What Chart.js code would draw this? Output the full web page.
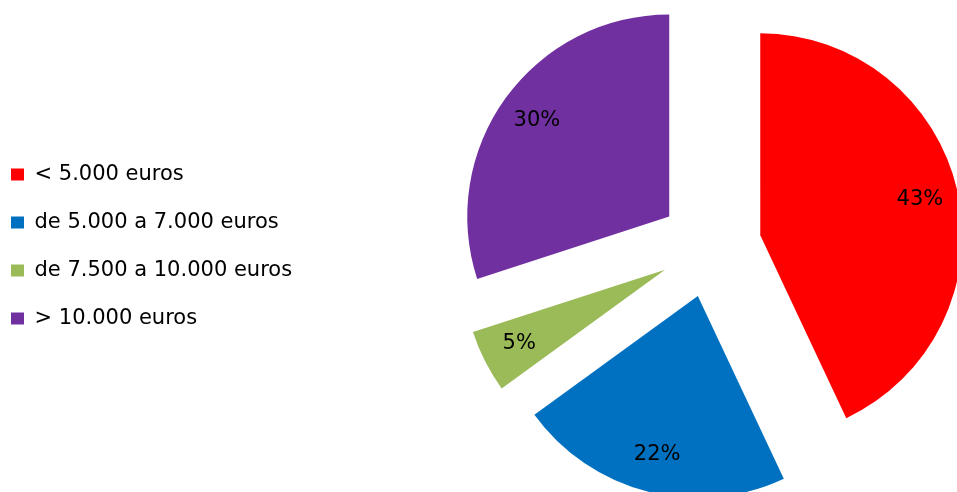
<!DOCTYPE html>
<html lang="es">
<head>
  <meta charset="UTF-8">
  <title>Distribución por tramos</title>
  <script src="https://cdn.jsdelivr.net/npm/chart.js"></script>
  <style>
    html, body { margin: 0; padding: 0; background: #fff; }
    #wrap { width: 957px; height: 492px; position: relative; }
  </style>
</head>
<body>
  <div id="wrap"><canvas id="pieChart"></canvas></div>

  <script>
    // datos
    const categories = ['< 5.000 euros', 'de 5.000 a 7.000 euros', 'de 7.500 a 10.000 euros', '> 10.000 euros'];
    const shares = [43, 22, 5, 30];
    const sliceColors = ['#FF0000', '#0070C0', '#9BBB59', '#7030A0'];

    const FONT = '"DejaVu Sans"';
    const EXPLODE = 51; // separación de las porciones en px

    // ancho fijo para la leyenda, así el círculo queda a la derecha
    const legendWidth = {
      id: 'legendWidth',
      beforeLayout(chart) {
        const lg = chart.legend;
        if (lg && !lg._fixedFit) {
          const fit = lg.fit.bind(lg);
          lg.fit = function () { fit(); this.width = 480; };
          lg._fixedFit = true;
        }
      }
    };

    // porciones separadas: se desplaza cada arco sobre su bisectriz
    // (el "offset" de Chart.js agranda el radio de las porciones pequeñas)
    const explodeArcs = {
      id: 'explodeArcs',
      afterDatasetUpdate(chart, args) {
        args.meta.data.forEach(arc => {
          if (arc._exploded) return;
          const baseDraw = Object.getPrototypeOf(arc).draw;
          arc.draw = function (c) {
            const mid = (this.startAngle + this.endAngle) / 2;
            c.save();
            c.translate(Math.cos(mid) * EXPLODE, Math.sin(mid) * EXPLODE);
            baseDraw.call(this, c);
            c.restore();
          };
          arc._exploded = true;
        });
      }
    };

    // porcentajes dentro de cada porción
    const sliceLabels = {
      id: 'sliceLabels',
      afterDatasetsDraw(chart) {
        const ctx = chart.ctx;
        const meta = chart.getDatasetMeta(0);
        ctx.save();
        ctx.font = '21px ' + FONT;
        ctx.fillStyle = '#000';
        ctx.textAlign = 'center';
        ctx.textBaseline = 'middle';
        meta.data.forEach((arc, i) => {
          const p = arc.getProps(['x', 'y', 'startAngle', 'endAngle', 'outerRadius']);
          const mid = (p.startAngle + p.endAngle) / 2;
          const d = EXPLODE + p.outerRadius * 0.81;
          ctx.fillText(shares[i] + '%', p.x + Math.cos(mid) * d, p.y + Math.sin(mid) * d);
        });
        ctx.restore();
      }
    };

    const ctx = document.getElementById('pieChart').getContext('2d');
    const pieChart = new Chart(ctx, {
      type: 'pie',
      data: {
        labels: categories,
        datasets: [{
          data: shares,
          backgroundColor: sliceColors,
          borderWidth: 0,
          offset: 0,
          hoverOffset: 0
        }]
      },
      options: {
        responsive: true,
        maintainAspectRatio: false,
        animation: false,
        events: [],
        radius: 202,
        layout: { padding: { left: -16, right: 0, top: 1, bottom: 0 } },
        plugins: {
          legend: {
            position: 'left',
            labels: {
              boxWidth: 13,
              boxHeight: 12,
              padding: 27,
              color: '#000',
              font: { family: FONT, size: 21 }
            }
          },
          tooltip: { enabled: false }
        }
      },
      plugins: [legendWidth, explodeArcs, sliceLabels]
    });
  </script>
</body>
</html>
